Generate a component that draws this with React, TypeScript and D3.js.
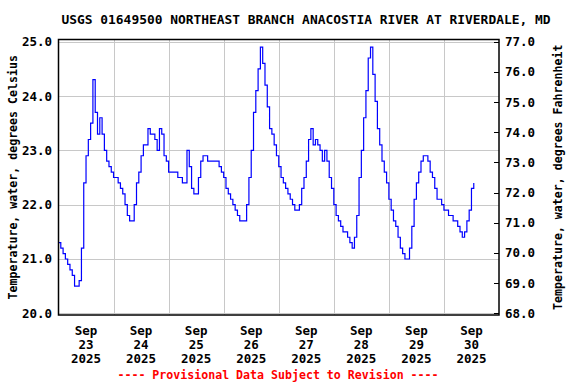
import React, { useRef, useEffect } from 'react';
import * as d3 from 'd3';

// hourly water temperature, deg C, starting Sep 23 2025 00:00
const tempDay23 = [21.3, 21.2, 21.1, 21.0, 20.9, 20.8, 20.7, 20.5, 20.5, 20.6, 21.2, 22.4, 22.9, 23.2, 23.5, 24.3, 23.7, 23.3, 23.6, 23.3, 23.0, 22.8, 22.7, 22.6];
const tempDay24 = [22.5, 22.5, 22.4, 22.3, 22.2, 22.0, 21.8, 21.7, 21.7, 22.0, 22.4, 22.6, 22.9, 23.1, 23.1, 23.4, 23.3, 23.3, 23.2, 23.0, 23.4, 23.3, 22.9, 22.8];
const tempDay25 = [22.6, 22.6, 22.6, 22.6, 22.5, 22.5, 22.4, 22.4, 23.0, 22.7, 22.3, 22.2, 22.2, 22.5, 22.8, 22.9, 22.9, 22.8, 22.8, 22.8, 22.8, 22.8, 22.7, 22.6];
const tempDay26 = [22.5, 22.3, 22.2, 22.1, 22.0, 21.9, 21.8, 21.7, 21.7, 21.7, 22.0, 22.5, 23.0, 23.7, 24.1, 24.5, 24.9, 24.6, 24.2, 23.8, 23.4, 23.3, 23.1, 22.9];
const tempDay27 = [22.7, 22.5, 22.4, 22.3, 22.2, 22.1, 22.0, 21.9, 21.9, 22.0, 22.3, 22.5, 22.8, 23.2, 23.4, 23.1, 23.2, 23.1, 23.0, 22.8, 23.0, 22.8, 22.5, 22.3];
const tempDay28 = [22.0, 21.8, 21.7, 21.6, 21.5, 21.5, 21.4, 21.3, 21.2, 21.4, 21.8, 22.5, 23.0, 23.6, 24.1, 24.7, 24.9, 24.4, 23.9, 23.4, 23.1, 22.8, 22.6, 22.4];
const tempDay29 = [22.1, 21.9, 21.7, 21.6, 21.4, 21.2, 21.1, 21.0, 21.0, 21.2, 21.6, 22.1, 22.4, 22.6, 22.8, 22.9, 22.9, 22.8, 22.6, 22.5, 22.3, 22.1, 22.1, 22.0];
const tempDay30 = [21.9, 21.9, 21.8, 21.8, 21.7, 21.7, 21.6, 21.5, 21.4, 21.5, 21.7, 21.9, 22.3, 22.4];

const leftTicks = [20, 21, 22, 23, 24, 25];
const rightTicks = [68, 69, 70, 71, 72, 73, 74, 75, 76, 77];
const dayLabels = ['23', '24', '25', '26', '27', '28', '29', '30'];

const title = 'USGS 01649500 NORTHEAST BRANCH ANACOSTIA RIVER AT RIVERDALE, MD';
const leftLabel = 'Temperature, water, degrees Celsius';
const rightLabel = 'Temperature, water, degrees Fahrenheit';
const footer = '---- Provisional Data Subject to Revision ----';

const W = 576, H = 384;
const font = "'DejaVu Sans Mono', monospace";

const App = () => {
  const svgRef = useRef(null);

  useEffect(() => {
    document.body.style.margin = '0';
    const svg = d3.select(svgRef.current);
    svg.selectAll('*').remove();

    const start = new Date(2025, 8, 23);
    const end = new Date(2025, 9, 1);
    const values = [...tempDay23, ...tempDay24, ...tempDay25, ...tempDay26, ...tempDay27, ...tempDay28, ...tempDay29, ...tempDay30];
    const data = values.map((v, i) => ({ t: d3.timeHour.offset(start, i), v }));

    const left = 58.5, right = 499, top = 39.5, bottom = 315;
    const x = d3.scaleTime().domain([start, end]).range([left, right]);
    const y = d3.scaleLinear().domain([20, 25]).range([313.3, 41.7]);
    const yF = d3.scaleLinear().domain([68, 77]).range([313.3, 41.7]);

    // grid
    const g = svg.append('g').attr('stroke', '#c8c8c8').attr('stroke-width', 1);
    leftTicks.forEach(t => {
      g.append('line').attr('x1', left).attr('x2', right).attr('y1', Math.round(y(t)) + 0.5).attr('y2', Math.round(y(t)) + 0.5);
    });
    d3.timeDay.range(d3.timeDay.offset(start, 1), end).forEach(d => {
      const xx = Math.round(x(d)) + 0.5;
      g.append('line').attr('x1', xx).attr('x2', xx).attr('y1', top).attr('y2', bottom);
    });

    // right axis inward ticks
    rightTicks.forEach(t => {
      const yy = Math.round(yF(t)) + 0.5;
      svg.append('line').attr('x1', right - 5).attr('x2', right).attr('y1', yy).attr('y2', yy).attr('stroke', '#000');
    });

    // data line
    const line = d3.line().x(d => x(d.t)).y(d => y(d.v)).curve(d3.curveStepAfter);
    svg.append('path').datum(data)
      .attr('fill', 'none').attr('stroke', '#0000ff').attr('stroke-width', 1.2)
      .attr('d', line);

    // frame
    svg.append('rect').attr('x', left).attr('y', top).attr('width', right - left).attr('height', bottom - top)
      .attr('fill', 'none').attr('stroke', '#000').attr('stroke-width', 1.5);

    const txt = (s, xx, yy, size, anchor = 'middle', fill = '#000') =>
      svg.append('text').attr('x', xx).attr('y', yy).attr('font-family', font).attr('font-weight', 'bold')
        .attr('font-size', size).attr('text-anchor', anchor).attr('fill', fill).text(s);

    txt(title, 306, 24, 12.9);

    leftTicks.forEach(t => txt(d3.format('.1f')(t), 52, y(t) + 4.5, 12.5, 'end'));
    rightTicks.forEach(t => txt(d3.format('.1f')(t), 505, yF(t) + 4.5, 12.5, 'start'));

    dayLabels.forEach((lab, i) => {
      const xx = x(d3.timeHour.offset(d3.timeDay.offset(start, i), 12));
      txt('Sep', xx, 335, 12.5);
      txt(lab, xx, 349, 12.5);
      txt('2025', xx, 363, 12.5);
    });

    txt(leftLabel, 0, 0, 11.6).attr('transform', `translate(17,${(top + bottom) / 2}) rotate(-90)`);
    txt(rightLabel, 0, 0, 11.6).attr('transform', `translate(562,${(top + bottom) / 2}) rotate(-90)`);

    txt(footer, 278, 379, 11.6, 'middle', '#ff0000');
  }, []);

  return <svg ref={svgRef} width={W} height={H} style={{ display: 'block', background: '#fff' }}></svg>;
};

export default App;
